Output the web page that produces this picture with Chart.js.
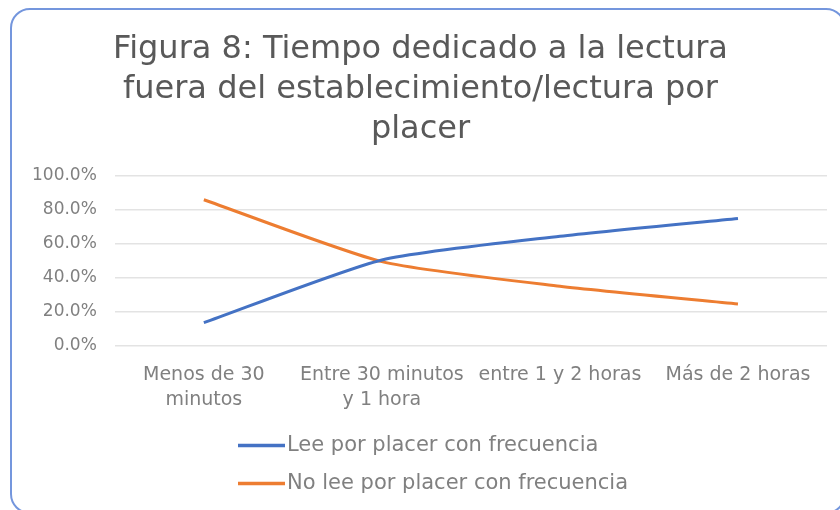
<!DOCTYPE html>
<html>
<head>
<meta charset="utf-8">
<script src="https://cdn.jsdelivr.net/npm/chart.js@4.4.1/dist/chart.umd.min.js"></script>
<style>
  html, body { margin: 0; padding: 0; background: #fff; overflow: hidden; }
  #wrap { position: relative; width: 840px; height: 510px; }
  #frame {
    position: absolute; left: 10px; top: 8px; width: 836px; height: 506px;
    border: 2px solid #7496dd; border-radius: 20px; box-sizing: border-box;
    pointer-events: none;
  }
</style>
</head>
<body>
<div id="wrap">
  <div id="frame"></div>
  <canvas id="myChart"></canvas>
</div>
<script>
// datos
const categorias = [['Menos de 30', 'minutos'], ['Entre 30 minutos', 'y 1 hora'], 'entre 1 y 2 horas', 'Más de 2 horas'];
const leeConFrecuencia = [13.5, 50.5, 64.5, 75];
const noLeeConFrecuencia = [86, 49.5, 35, 24.5];
const nombresSeries = ['Lee por placer con frecuencia', 'No lee por placer con frecuencia'];
const titulo = ['Figura 8: Tiempo dedicado a la lectura', 'fuera del establecimiento/lectura por', 'placer'];

const FUENTE = "'DejaVu Sans', sans-serif";

// leyenda vertical como en el original
const leyendaVertical = {
  id: 'leyendaVertical',
  afterDraw(chart) {
    const c = chart.ctx;
    const base = chart.chartArea.bottom;
    c.save();
    c.font = '21px ' + FUENTE;
    c.textBaseline = 'middle';
    chart.data.datasets.forEach(function (ds, i) {
      const y = base + 100 + i * 38;
      c.strokeStyle = ds.borderColor;
      c.lineWidth = 3.5;
      c.beginPath();
      c.moveTo(238, y);
      c.lineTo(285, y);
      c.stroke();
      c.fillStyle = '#808080';
      c.fillText(ds.label, 287, y);
    });
    c.restore();
  }
};

const ctx = document.getElementById('myChart');

new Chart(ctx, {
  type: 'line',
  data: {
    labels: categorias,
    datasets: [{
      label: nombresSeries[0],
      data: leeConFrecuencia,
      borderColor: '#4472c4',
      backgroundColor: '#4472c4',
      borderWidth: 3,
      pointRadius: 0,
      tension: 0.2
    }, {
      label: nombresSeries[1],
      data: noLeeConFrecuencia,
      borderColor: '#ed7d31',
      backgroundColor: '#ed7d31',
      borderWidth: 3,
      pointRadius: 0,
      tension: 0.2
    }]
  },
  options: {
    responsive: true,
    maintainAspectRatio: false,
    animation: false,
    layout: { padding: { top: 22, left: 14, right: 13, bottom: 89 } },
    plugins: {
      legend: { display: false },
      tooltip: { enabled: false },
      title: {
        display: true,
        text: titulo,
        color: '#595959',
        font: { family: FUENTE, size: 32, weight: 'normal', lineHeight: 1.25 },
        padding: { top: 8, bottom: 26 }
      }
    },
    scales: {
      x: {
        offset: true,
        grid: { display: false },
        border: { display: false },
        ticks: {
          color: '#808080',
          font: { family: FUENTE, size: 19, lineHeight: 1.3 },
          padding: 9,
          maxRotation: 0,
          autoSkip: false
        }
      },
      y: {
        min: 0,
        max: 100,
        border: { display: false },
        grid: { color: '#e3e3e3', lineWidth: 1.5, drawTicks: false },
        ticks: {
          stepSize: 20,
          color: '#808080',
          font: { family: FUENTE, size: 17 },
          padding: 18,
          callback: function (v) { return v.toFixed(1) + '%'; }
        }
      }
    }
  },
  plugins: [leyendaVertical]
});
</script>
</body>
</html>
